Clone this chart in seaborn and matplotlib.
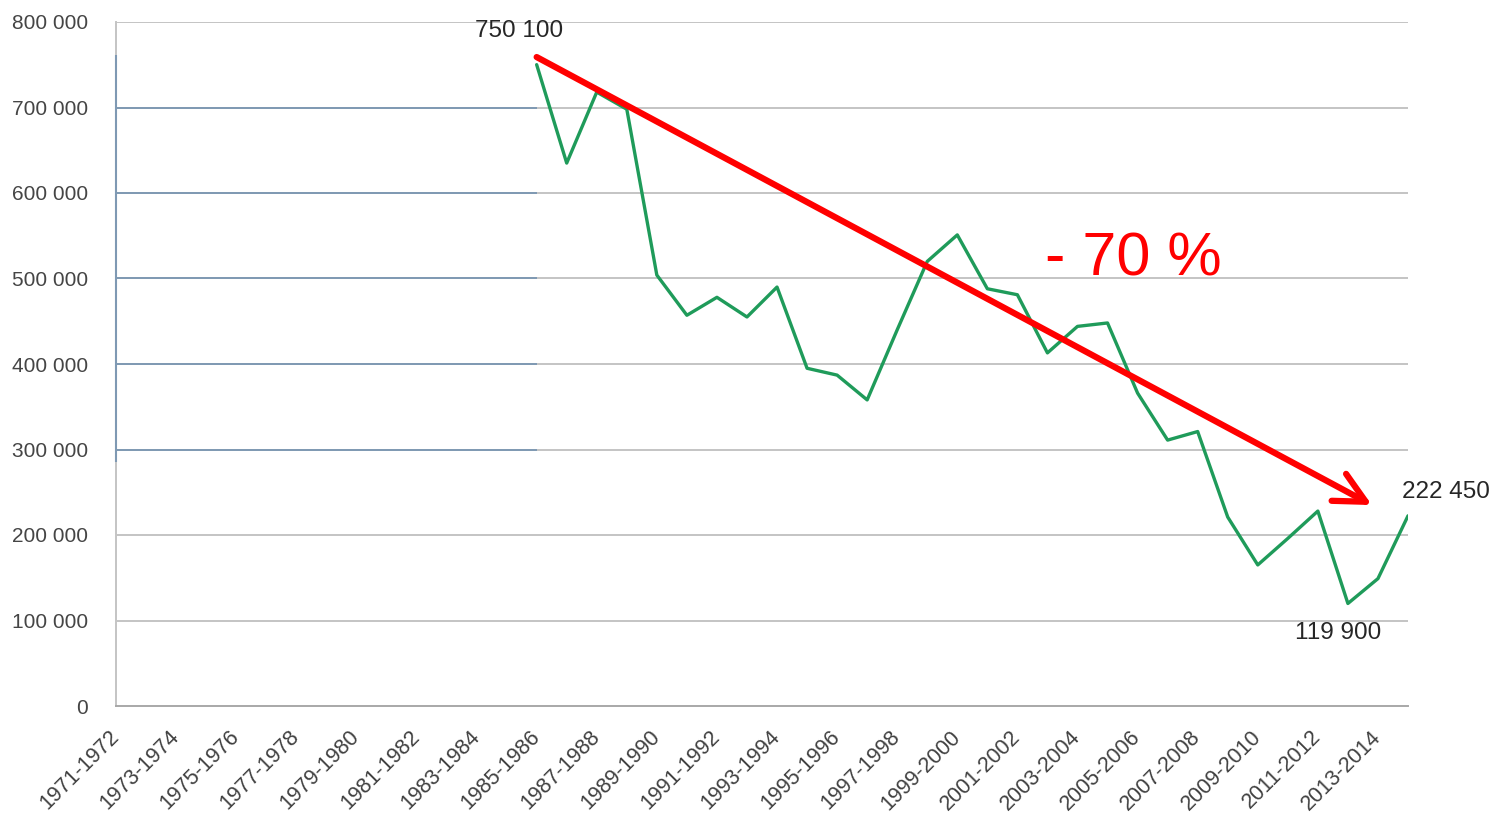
import numpy as np
import matplotlib.pyplot as plt
import seaborn as sns
import pandas as pd

# seasons on the category axis (44 of them, labelled every other one)
seasons = [f"{y}-{y + 1}" for y in range(1971, 2015)]

# values only known from 1985-1986 onwards
first_season = "1985-1986"
values = [750100, 635000, 718000, 698000, 504000, 457000, 478000, 455000,
          490000, 395000, 387000, 358000, 440000, 520000, 551000, 488000,
          481000, 413000, 444000, 448000, 366000, 311000, 321000, 221000,
          165000, 196000, 228000, 119900, 149000, 222450]

yticks = [0, 100000, 200000, 300000, 400000, 500000, 600000, 700000, 800000]
drop_label = "- 70 %"

start = seasons.index(first_season)
df = pd.DataFrame({"season": seasons[start:start + len(values)], "value": values})
df["pos"] = [seasons.index(s) for s in df["season"]]


def fmt(v):
    return f"{v:,}".replace(",", " ")


sns.set_style("white")
plt.rcParams["font.family"] = ["Liberation Sans", "DejaVu Sans"]

fig = plt.figure(figsize=(14.93, 8.16), dpi=100)
ax = fig.add_axes([116 / 1493, 1 - 706 / 816, (1408 - 116) / 1493, (706 - 22) / 816])

# grid lines (grey across, blue-ish on the empty left part, as in the source)
for t in yticks[1:]:
    ax.axhline(t, color="#c4c4c4", lw=1.4, zorder=0)
for t in yticks[3:8]:
    ax.hlines(t, 0, start, color="#7f99b3", lw=1.4, zorder=1)

sns.lineplot(data=df, x="pos", y="value", color="#1f9b5a", lw=2.4, ax=ax, zorder=3)

ax.set_xlim(0, len(seasons) - 1)
ax.set_ylim(0, 800000)
ax.set_xticks(range(len(seasons)))
ax.set_xticklabels([s if i % 2 == 0 else "" for i, s in enumerate(seasons)],
                   rotation=45, ha="right", va="center", rotation_mode="anchor",
                   fontsize=15.5, color="#404040")
ax.set_yticks(yticks)
ax.set_yticklabels([fmt(t) for t in yticks], fontsize=15, color="#454545")
ax.tick_params(axis="x", direction="in", length=5, color="#a0a0a0", pad=20)
ax.tick_params(axis="y", length=0, pad=20)
ax.set_xlabel("")
ax.set_ylabel("")

for s in ["top", "right"]:
    ax.spines[s].set_visible(False)
ax.spines["left"].set_color("#c4c4c4")
ax.spines["bottom"].set_color("#a8a8a8")
ax.spines["left"].set_linewidth(1.4)
ax.spines["bottom"].set_linewidth(1.4)
ax.vlines(0, 285000, 761000, color="#7f99b3", lw=1.5, zorder=4, clip_on=False)

# trend arrow
ax.annotate("", xy=(41.8, 235000), xytext=(start, 759000),
            arrowprops=dict(arrowstyle="->, head_length=2.2, head_width=1.1",
                            color="#ff0000", lw=4.5, shrinkA=0, shrinkB=0),
            zorder=5)
ax.text(33.85, 522000, drop_label, color="#ff0000", fontsize=44,
        ha="center", va="center")

# point labels
first_pos = df["pos"].iloc[0]
last_pos = df["pos"].iloc[-1]
min_i = int(np.argmin(values))
ax.annotate(fmt(values[0]), (first_pos, values[0]), xytext=(-13, 24),
            textcoords="offset points", ha="center", va="center", fontsize=17.5)
ax.annotate(fmt(values[-1]), (last_pos, values[-1]), xytext=(27, 17),
            textcoords="offset points", ha="center", va="center", fontsize=17.5,
            annotation_clip=False)
ax.annotate(fmt(values[min_i]), (df["pos"].iloc[min_i], values[min_i]), xytext=(-7, -21),
            textcoords="offset points", ha="center", va="center", fontsize=17.5)

fig.savefig("out.png", dpi=100)
